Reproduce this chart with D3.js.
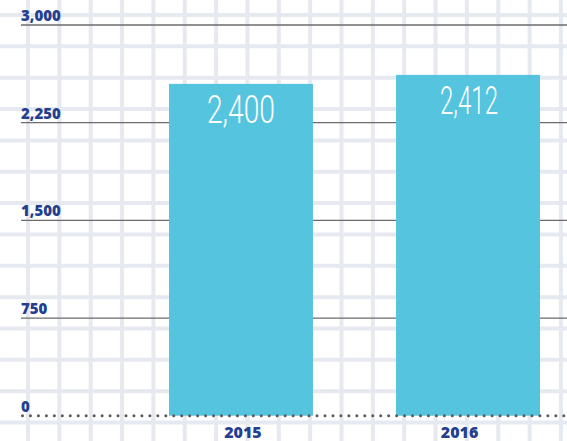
<!DOCTYPE html>
<html>
<head>
<meta charset="utf-8">
<script src="https://cdn.jsdelivr.net/npm/d3@7"></script>
<style>
  html, body { margin: 0; padding: 0; background: #fff; }
  svg { display: block; }
</style>
</head>
<body>
<div id="chart"></div>
<script>
// values
var years = ["2015", "2016"];
var barHeights = [2548, 2617];      // height of the bars as drawn
var barLabels = ["2,400", "2,412"];  // numbers printed in the bars
var yTicks = [0, 750, 1500, 2250, 3000];

var width = 567, height = 441;

var svg = d3.select("#chart").append("svg")
    .attr("width", width)
    .attr("height", height);

// graph paper background
var gridStep = 31.35;
var grid = svg.append("g").attr("stroke", "#e7e9f1").attr("stroke-width", 4);
grid.selectAll("line.v")
    .data(d3.range(28, width + 4, gridStep))
    .enter().append("line")
    .attr("class", "v")
    .attr("x1", function(d){ return d; })
    .attr("x2", function(d){ return d; })
    .attr("y1", 0).attr("y2", height);
grid.selectAll("line.h")
    .data(d3.range(15, height + 4, gridStep))
    .enter().append("line")
    .attr("class", "h")
    .attr("y1", function(d){ return d; })
    .attr("y2", function(d){ return d; })
    .attr("x1", 0).attr("x2", width);

var y = d3.scaleLinear().domain([0, 3000]).range([415.7, 25]);
var x = d3.scaleBand().domain(years).range([169, 540]).paddingInner(0.366).paddingOuter(0);

// value lines
var lines = svg.append("g");
lines.selectAll("line")
    .data(yTicks.filter(function(d){ return d > 0; }))
    .enter().append("line")
    .attr("x1", 21).attr("x2", width)
    .attr("y1", function(d){ return y(d); })
    .attr("y2", function(d){ return y(d); })
    .attr("stroke", "#6b6b6b")
    .attr("stroke-width", 1.3);

// bars
svg.append("g").selectAll("rect")
    .data(years)
    .enter().append("rect")
    .attr("x", function(d){ return x(d); })
    .attr("width", x.bandwidth())
    .attr("y", function(d, i){ return y(barHeights[i]); })
    .attr("height", function(d, i){ return y(0) - y(barHeights[i]); })
    .attr("fill", "#55c4de");

// dotted baseline
svg.append("line")
    .attr("x1", 22.5).attr("x2", width)
    .attr("y1", y(0)).attr("y2", y(0))
    .attr("stroke", "#5a5a5a")
    .attr("stroke-width", 3)
    .attr("stroke-linecap", "round")
    .attr("stroke-dasharray", "0.01 7.95");

// tick labels
svg.append("g").selectAll("text")
    .data(yTicks)
    .enter().append("text")
    .attr("x", 21)
    .attr("y", function(d){ return y(d) - 4; })
    .attr("font-family", "'Open Sans', 'DejaVu Sans', sans-serif")
    .attr("font-weight", 800)
    .attr("font-size", 15)
    .attr("fill", "#253f90")
    .text(d3.format(","));

// year labels
var yearOffsets = [2, -8.5];
svg.append("g").selectAll("text")
    .data(years)
    .enter().append("text")
    .attr("x", function(d, i){ return x(d) + x.bandwidth() / 2 + yearOffsets[i]; })
    .attr("y", 437.5)
    .attr("text-anchor", "middle")
    .attr("font-family", "'Open Sans', 'DejaVu Sans', sans-serif")
    .attr("font-weight", 800)
    .attr("font-size", 16)
    .attr("fill", "#253f90")
    .text(function(d){ return d; });

// numbers inside the bars
var labelWidths = [68, 58];
svg.append("g").selectAll("text")
    .data(barLabels)
    .enter().append("text")
    .attr("x", function(d, i){ return x(years[i]) + x.bandwidth() / 2 + (i ? 1 : 0); })
    .attr("y", function(d, i){ return y(barHeights[i]) + 39; })
    .attr("text-anchor", "middle")
    .attr("font-family", "Roboto, 'DejaVu Sans', sans-serif")
    .attr("font-weight", 300)
    .attr("font-size", 39)
    .attr("fill", "#fff")
    .attr("textLength", function(d, i){ return labelWidths[i]; })
    .attr("lengthAdjust", "spacingAndGlyphs")
    .text(function(d){ return d; });
</script>
</body>
</html>
